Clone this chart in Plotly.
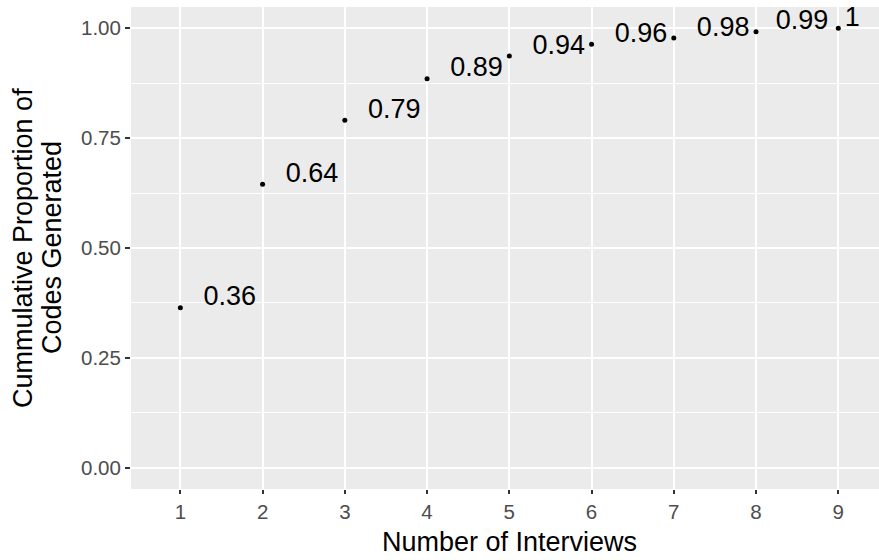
import plotly.graph_objects as go

# Data
interviews = [1, 2, 3, 4, 5, 6, 7, 8, 9]
cum_prop = [0.364, 0.645, 0.791, 0.885, 0.937, 0.964, 0.978, 0.992, 1.0]
labels = ["0.36", "0.64", "0.79", "0.89", "0.94", "0.96", "0.98", "0.99", "1"]
x_ticks = [1, 2, 3, 4, 5, 6, 7, 8, 9]
y_ticks = [0.0, 0.25, 0.5, 0.75, 1.0]
y_tick_text = ["0.00", "0.25", "0.50", "0.75", "1.00"]
y_title_lines = ["Cummulative Proportion of", "Codes Generated"]
x_title = "Number of Interviews"

# label nudges (repel-like offsets, data units)
label_dx = [0.6, 0.6, 0.6, 0.6, 0.6, 0.6, 0.6, 0.56, 0.17]
label_dy = [0.021] * 9

FONT = "Liberation Sans, Arial, Helvetica, sans-serif"

fig = go.Figure()
fig.add_trace(go.Scatter(
    x=interviews, y=cum_prop, mode="markers",
    marker=dict(color="black", size=5),
    hoverinfo="skip", showlegend=False,
))
fig.add_trace(go.Scatter(
    x=[a + d for a, d in zip(interviews, label_dx)],
    y=[b + d for b, d in zip(cum_prop, label_dy)],
    mode="text", text=labels, textposition="middle center",
    textfont=dict(family=FONT, size=27, color="black"),
    hoverinfo="skip", showlegend=False, cliponaxis=False,
))

fig.update_layout(
    width=879, height=560,
    margin=dict(l=131, r=0, t=7, b=71),
    paper_bgcolor="white", plot_bgcolor="#EBEBEB",
    font=dict(family=FONT),
    xaxis=dict(
        range=[0.4, 9.495], tickmode="array", tickvals=x_ticks,
        ticktext=[str(v) for v in x_ticks],
        showgrid=True, gridcolor="white", gridwidth=2, zeroline=False,
        ticks="outside", ticklen=4, tickwidth=2, tickcolor="#333333",
        tickfont=dict(size=20.5, color="#4D4D4D", family=FONT),
        showline=False,
    ),
    yaxis=dict(
        range=[-0.0485, 1.0485], tickmode="array", tickvals=y_ticks,
        ticktext=y_tick_text,
        showgrid=True, gridcolor="white", gridwidth=2, zeroline=False,
        minor=dict(tickmode="array", tickvals=[0.125, 0.375, 0.625, 0.875],
                   showgrid=True, gridcolor="white", gridwidth=1, ticks=""),
        ticks="outside", ticklen=5, tickwidth=2, tickcolor="#333333",
        tickfont=dict(size=20.5, color="#4D4D4D", family=FONT),
        showline=False,
    ),
    annotations=[
        dict(text=x_title, x=5, xref="x", y=0, yref="paper",
             yanchor="middle", yshift=-53, showarrow=False,
             font=dict(size=27, color="black", family=FONT)),
        dict(text=y_title_lines[0], x=0, xref="paper",
             xanchor="center", xshift=-108, y=0.5, yref="paper", yanchor="middle",
             textangle=-90, showarrow=False,
             font=dict(size=27, color="black", family=FONT)),
        dict(text=y_title_lines[1], x=0, xref="paper",
             xanchor="center", xshift=-79, y=0.5, yref="paper", yanchor="middle",
             textangle=-90, showarrow=False,
             font=dict(size=27, color="black", family=FONT)),
    ],
)

fig.write_html("out.html")
